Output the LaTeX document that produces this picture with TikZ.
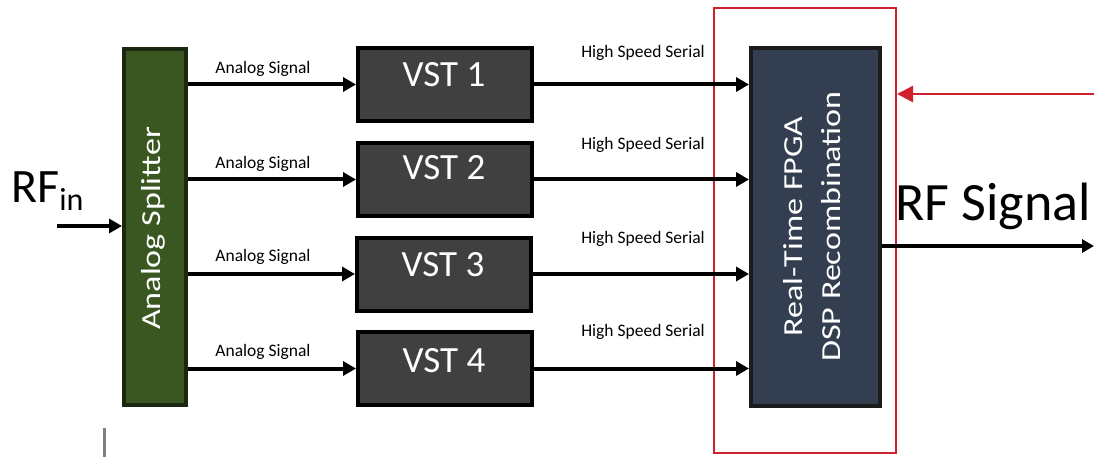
\documentclass[tikz,border=0pt]{standalone}
\usepackage{fontspec}
\setmainfont{Carlito}
\usetikzlibrary{arrows.meta}
\definecolor{splitfill}{HTML}{3A5722}
\definecolor{splitdraw}{HTML}{1A2812}
\definecolor{vstfill}{HTML}{404040}
\definecolor{fpgafill}{HTML}{333F50}
\definecolor{fpgadraw}{HTML}{1C1C1C}
\definecolor{redline}{HTML}{D0202E}
\tikzset{
  vstbox/.style={draw=black, fill=vstfill, line width=4pt, minimum width=174pt, minimum height=73pt, inner sep=0pt},
  vstlabel/.style={text=white, font=\fontsize{37}{40}\selectfont, anchor=base, inner sep=0pt},
  small/.style={font=\fontsize{17.5}{20}\selectfont, anchor=base, inner sep=0pt},
  arr/.style={line width=4pt, -{Triangle[length=13pt,width=14pt]}},
  redarr/.style={draw=redline, line width=2.5pt, -{Triangle[length=16pt,width=16pt]}},
}
\begin{document}
\begin{tikzpicture}[x=1pt,y=-1pt]
\useasboundingbox (0,0) rectangle (1094,457);
% red frame
\node[draw=redline, line width=2pt, minimum width=182pt, minimum height=445pt, inner sep=0pt] (frame) at (805,230.5) {};
% splitter
\node[draw=splitdraw, fill=splitfill, line width=4pt, minimum width=62pt, minimum height=356pt, inner sep=0pt] (split) at (155,227) {};
\node[rotate=90, text=white, font=\fontsize{27.5}{33}\selectfont, inner sep=0pt] (splittext) at (153.5,228.5) {\scalebox{1.24}[1]{Analog Splitter}};
% VSTs
\node[vstbox] (v1) at (445,84.5) {};
\node[vstbox] (v2) at (445,179.5) {};
\node[vstbox] (v3) at (444,274) {};
\node[vstbox] (v4) at (445,368.5) {};
\node[vstlabel] (v1t) at (444,87) {VST 1};
\node[vstlabel] (v2t) at (444,180) {VST 2};
\node[vstlabel] (v3t) at (443,276) {VST 3};
\node[vstlabel] (v4t) at (444,372) {VST 4};
% FPGA
\node[draw=fpgadraw, fill=fpgafill, line width=4pt, minimum width=129pt, minimum height=358pt, inner sep=0pt] (fpga) at (815.5,227) {};
\node[rotate=90, text=white, font=\fontsize{27.5}{38}\selectfont, inner sep=0pt] (fpgatext) at (814,226.5)
  {\scalebox{1.24}[1]{\begin{tabular}{@{}c@{}}Real-Time FPGA\\DSP Recombination\end{tabular}}};
% labels
\node[small] (a1) at (263,74) {Analog Signal};
\node[small] (a2) at (263,169) {Analog Signal};
\node[small] (a3) at (263,261) {Analog Signal};
\node[small] (a4) at (263,356) {Analog Signal};
\node[small] (h1) at (643,58) {High Speed Serial};
\node[small] (h2) at (643,150) {High Speed Serial};
\node[small] (h3) at (643,243) {High Speed Serial};
\node[small] (h4) at (643,336) {High Speed Serial};
% analog arrows
\foreach \v in {v1,v2,v3,v4}{
  \draw[arr] (split.east |- \v.west) -- (\v.west);
  \draw[arr] (\v.east) -- (fpga.west |- \v.east);
}
% RF in
\node[anchor=base west, inner sep=0pt, font=\fontsize{48}{50}\selectfont] (rfin) at (11,202) {RF\raisebox{-8pt}{\fontsize{32}{34}\selectfont in}};
\coordinate (rfinstart) at (57,226);
\draw[arr] (rfinstart) -- (split.west |- rfinstart);
% RF out
\node[anchor=base west, inner sep=0pt, font=\fontsize{54}{56}\selectfont] (rfout) at (895,220) {RF Signal};
\coordinate (outend) at (1094,246);
\draw[line width=4pt, -{Triangle[length=12pt,width=13pt]}] (fpga.east |- outend) -- (outend);
% red arrow
\coordinate (redstart) at (1094,94);
\draw[redarr] (redstart) -- (frame.east |- redstart);
% grey mark
\draw[line width=3pt, draw={rgb,255:red,128;green,128;blue,128}] (104,428) -- (104,457);
\end{tikzpicture}
\end{document}
